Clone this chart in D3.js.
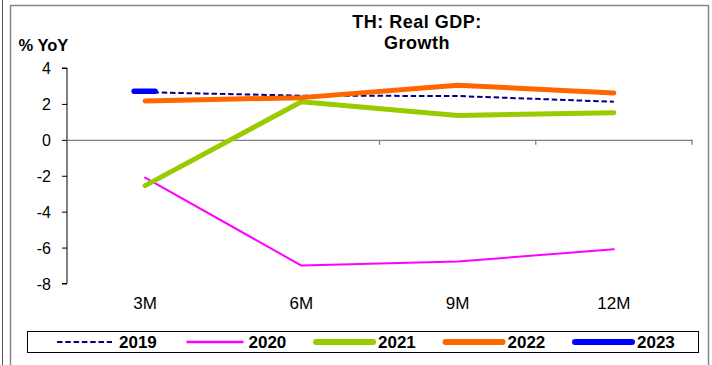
<!DOCTYPE html>
<html>
<head>
<meta charset="utf-8">
<script src="https://cdn.jsdelivr.net/npm/d3@7"></script>
<style>
  html, body { margin: 0; padding: 0; background: #fff; }
  svg { display: block; }
  text { font-family: Arial, "Liberation Sans", sans-serif; fill: #000; }
</style>
</head>
<body>
<svg id="chart" width="712" height="365"></svg>
<script>
const categories = ["3M", "6M", "9M", "12M"];
const yTicks = [4, 2, 0, -2, -4, -6, -8];
const years = ["2019", "2020", "2021", "2022", "2023"];
const v2019 = [2.65, 2.46, 2.44, 2.12];
const v2020 = [-2.1, -7.0, -6.78, -6.09];
const v2021 = [-2.55, 2.12, 1.36, 1.51];
const v2022 = [2.16, 2.35, 3.04, 2.61];
const v2023 = [2.7, null, null, null];
const titleLines = ["TH: Real GDP:", "Growth"];
const yLabel = "% YoY";

const seriesData = [v2019, v2020, v2021, v2022, v2023];
const styles = [
  { color: "#000080", width: 2, dash: "5.5,2.8" },
  { color: "#FF00FF", width: 2, dash: null },
  { color: "#99CC00", width: 5, dash: null },
  { color: "#FF6600", width: 5, dash: null },
  { color: "#0000FF", width: 5.5, dash: null }
];

const svg = d3.select("#chart");

// frame lines
svg.append("line").attr("x1", 2.5).attr("x2", 2.5).attr("y1", 0).attr("y2", 365)
  .attr("stroke", "#555").attr("stroke-width", 1);
svg.append("rect").attr("x", 10.5).attr("y", 5.5).attr("width", 698).attr("height", 370)
  .attr("fill", "none").attr("stroke", "#888").attr("stroke-width", 1.5);

const x = d3.scaleBand().domain(categories).range([67, 692]).paddingInner(0).paddingOuter(0);
const y = d3.scaleLinear().domain([-8, 4]).range([283.5, 68]);
const cx = c => x(c) + x.bandwidth() / 2;

// y axis
const yAxis = d3.axisLeft(y).tickValues(yTicks).tickSize(5).tickPadding(11)
  .tickFormat(d => d3.format("d")(d).replace("−", "-"));
const gy = svg.append("g").attr("transform", "translate(67,0)").call(yAxis);
gy.select(".domain").attr("stroke", "#000").attr("d", `M-5,${y(4)}H0V${y(-8)}H-5`);
gy.selectAll(".tick line").attr("stroke", "#000");
gy.selectAll(".tick text").style("font-size", "16px").attr("dy", "0.36em");

// zero line with category ticks
const xAxis = d3.axisBottom(x).tickSize(0).tickFormat("");
const gx = svg.append("g").attr("transform", `translate(0,${y(0)})`).call(xAxis);
gx.select(".domain").attr("stroke", "#808080").attr("stroke-width", 1.3);
gx.selectAll(".tick").remove();
const bounds = categories.map(c => x(c)).concat([x(categories[categories.length - 1]) + x.bandwidth()]);
gx.selectAll("line.bt").data(bounds.slice(1)).enter().append("line")
  .attr("x1", d => d).attr("x2", d => d).attr("y1", 0).attr("y2", 5)
  .attr("stroke", "#808080").attr("stroke-width", 1.3);

// category labels
svg.selectAll("text.cat").data(categories).enter().append("text")
  .attr("class", "cat").attr("x", d => cx(d)).attr("y", 308.5)
  .attr("text-anchor", "middle").style("font-size", "17px").text(d => d);

// series lines
const line = d3.line().defined(d => d.v != null).x(d => cx(d.c)).y(d => y(d.v));
seriesData.forEach((vals, i) => {
  const pts = vals.map((v, j) => ({ c: categories[j], v }));
  const st = styles[i];
  const valid = pts.filter(p => p.v != null);
  if (valid.length > 1) {
    svg.append("path").datum(pts).attr("d", line).attr("fill", "none")
      .attr("stroke", st.color).attr("stroke-width", st.width)
      .attr("stroke-dasharray", st.dash).attr("stroke-linejoin", "round")
      .attr("stroke-linecap", st.dash ? "butt" : "round");
  } else {
    // single point drawn as a dash marker
    valid.forEach(p => {
      svg.append("line").attr("x1", cx(p.c) - 11).attr("x2", cx(p.c) + 10)
        .attr("y1", y(p.v)).attr("y2", y(p.v))
        .attr("stroke", st.color).attr("stroke-width", st.width)
        .attr("stroke-linecap", "round");
    });
  }
});

// titles
svg.append("text").attr("x", 417).attr("y", 27.5).attr("text-anchor", "middle")
  .style("font-size", "18px").style("font-weight", "bold").style("letter-spacing", "0.5px")
  .text(titleLines[0]);
svg.append("text").attr("x", 417).attr("y", 48.5).attr("text-anchor", "middle")
  .style("font-size", "18px").style("font-weight", "bold").style("letter-spacing", "0.5px")
  .text(titleLines[1]);
svg.append("text").attr("x", 18.5).attr("y", 50.5)
  .style("font-size", "16.5px").style("font-weight", "bold").text(yLabel);

// legend
svg.append("rect").attr("x", 27.5).attr("y", 331.5).attr("width", 671).attr("height", 21)
  .attr("fill", "#fff").attr("stroke", "#000").attr("stroke-width", 1);
const lg = svg.selectAll("g.leg").data(years).enter().append("g").attr("class", "leg")
  .attr("transform", (d, i) => `translate(${57 + i * 129.5},342)`);
lg.append("line").attr("x1", 0).attr("x2", (d, i) => i === 0 ? 55 : 57)
  .attr("y1", 0).attr("y2", 0)
  .attr("stroke", (d, i) => styles[i].color)
  .attr("stroke-width", (d, i) => i === 0 ? 2 : (i === 1 ? 2.5 : 6))
  .attr("stroke-dasharray", (d, i) => styles[i].dash)
  .attr("stroke-linecap", (d, i) => i >= 2 ? "round" : "butt");
lg.append("text").attr("x", 62).attr("y", 6).style("font-size", "17px")
  .style("font-weight", "bold").text(d => d);
</script>
</body>
</html>
